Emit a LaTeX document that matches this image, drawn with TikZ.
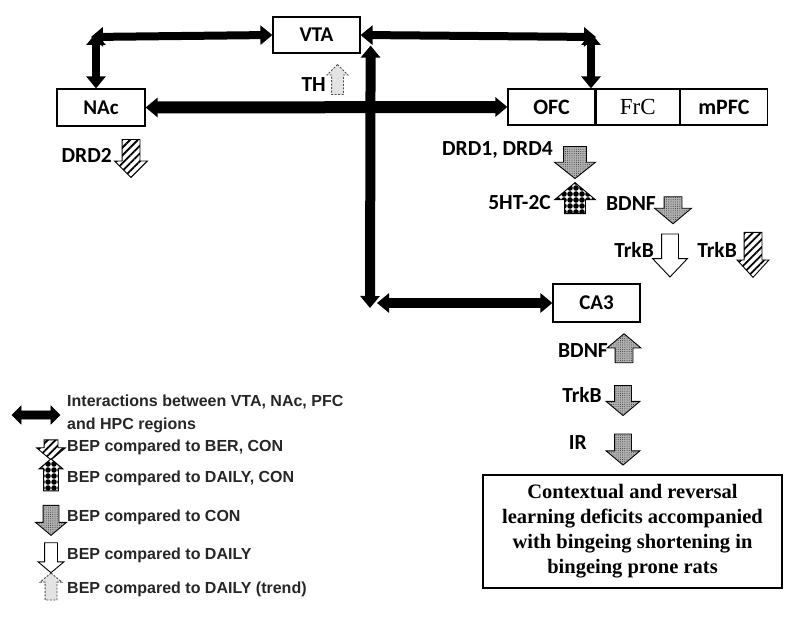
\documentclass[tikz,border=0pt]{standalone}
\usepackage{fontspec}
\setmainfont{Carlito}
\newfontfamily\legfont{Liberation Sans}
\newfontfamily\timesfont{Liberation Serif}
\usetikzlibrary{positioning,arrows.meta,shapes.arrows,patterns,patterns.meta}

\tikzset{
  region/.style={rectangle,draw,line width=1.2pt,minimum height=36pt,inner sep=0pt,font=\fontsize{21}{24}\selectfont\bfseries},
  lbl/.style={anchor=east,inner sep=1pt,font=\fontsize{21.5}{24}\selectfont\bfseries},
  legtxt/.style={anchor=west,inner sep=0pt,align=left,text=black!85,font=\legfont\fontsize{16}{23}\selectfont\bfseries},
  conn/.style={line width=#1,{Triangle[length=12pt,width=19pt]}-{Triangle[length=12pt,width=19pt]}},
  blk/.style={single arrow,draw,line width=0.9pt,single arrow head indent=0pt,single arrow tip angle=100},
  dn/.style={blk,shape border rotate=270},
  upw/.style={blk,shape border rotate=90},
  % length, head width, shaft width
  asize/.style n args={3}{minimum height=#1,minimum width=#2,inner sep={(#3)/2},single arrow head extend={((#2)-(#3))/2}},
  hatch/.style={fill=white,postaction={pattern={Lines[angle=45,distance=5.5pt,line width=1.8pt]}}},
  dotfill/.style={fill=gray!60,postaction={pattern={Dots[radius=0.5pt,distance=2.2pt]},pattern color=black!80}},
  circ/.style={fill=white,postaction={pattern={Dots[radius=2.8pt,distance=6pt]}}},
  wfill/.style={fill=white},
  trend/.style={fill=gray!22,draw=gray!60!black,dash pattern=on 2pt off 1.5pt}
}

\begin{document}
\begin{tikzpicture}[x=1pt,y=-1pt]
\useasboundingbox (0,0) rectangle (800,620);
% brain regions
\node[region,minimum width=87pt] (VTA) at (316.5,35) {VTA};
\node[region,minimum width=88pt,minimum height=37pt] (NAc) at (101,107.5) {NAc};
\node[region,minimum width=87pt,font=\fontsize{22}{24}\selectfont\bfseries] (OFC) at (551.5,107) {OFC};
\node[region,minimum width=83pt,font=\timesfont\fontsize{23}{24}\selectfont,right=0pt of OFC] (FrC) {FrC};
\node[region,minimum width=87pt,font=\fontsize{22}{24}\selectfont\bfseries,right=0pt of FrC] (mPFC) {mPFC};
\node[region,minimum width=87pt,minimum height=38pt] (CA3) at (596.5,303) {CA3};
\node[draw,line width=2pt,minimum width=299pt,minimum height=113pt,align=center,font=\timesfont\bfseries\fontsize{20.5}{25}\selectfont] (deficit) at (632.5,531.5) {Contextual and reversal\\learning deficits accompanied\\with bingeing shortening in\\bingeing prone rats};

% interactions
\coordinate (nw) at (96,37);
\coordinate (ne) at (591,37);
\coordinate (hub) at (370,303);
\draw[conn=8pt] ([xshift=-5pt]nw) -- (VTA.west);
\draw[conn=8pt] ([yshift=4pt]nw) -- (nw |- NAc.north);
\draw[conn=8pt] (VTA.east) -- ([xshift=5pt]ne);
\draw[conn=8pt] ([yshift=4pt]ne) -- (ne |- OFC.north);
\draw[conn=12pt] (NAc.east) -- (OFC.west);
\draw[conn=10pt] ([shift={(10pt,8pt)}]VTA.south east) -- ([yshift=-5pt]hub);
\draw[conn=10pt] ([xshift=7pt]hub) -- (CA3.west);

% changes per region
\node[upw,trend,asize={30pt}{20pt}{11pt},single arrow tip angle=90] (aTH) at (337.5,82.5) {};
\node[lbl] (lTH) at (327,85) {TH};
\node[dn,hatch,asize={38pt}{32pt}{17pt},single arrow tip angle=90] (aDRD2) at (131,154) {};
\node[lbl] (lDRD2) at (113,155) {DRD2};
\node[dn,dotfill,asize={30pt}{40pt}{22pt},single arrow tip angle=103] (aDRD) at (575,158) {};
\node[lbl] (lDRD) at (554,150) {DRD1, DRD4};
\node[upw,circ,asize={31pt}{40pt}{20pt}] (a5HT) at (575,202.5) {};
\node[lbl] (l5HT) at (552,203) {5HT-2C};
\node[dn,dotfill,asize={27pt}{36pt}{17pt}] (aBDNFp) at (673,206.5) {};
\node[lbl] (lBDNFp) at (657,204) {BDNF};
\node[dn,wfill,asize={43pt}{34pt}{16pt},single arrow tip angle=87] (aTrkBw) at (670,251) {};
\node[lbl] (lTrkBw) at (655,250) {TrkB};
\node[dn,hatch,asize={45pt}{31pt}{17pt},single arrow tip angle=85] (aTrkBh) at (753,250) {};
\node[lbl] (lTrkBh) at (738,250) {TrkB};
\node[upw,dotfill,asize={29pt}{33pt}{17pt}] (aBDNFc) at (624,352) {};
\node[lbl] (lBDNFc) at (609,351) {BDNF};
\node[dn,dotfill,asize={30pt}{33pt}{16pt}] (aTrkBc) at (623,397) {};
\node[lbl] (lTrkBc) at (603,395) {TrkB};
\node[dn,dotfill,asize={31pt}{33pt}{16pt}] (aIR) at (623,446) {};
\node[lbl] (lIR) at (588,443) {IR};

% legend
\node[double arrow,draw,fill=black,inner sep=4pt,minimum height=48pt,minimum width=18pt,double arrow head extend=5pt] (lg0) at (36,415) {};
\node[legtxt] (lgT0) at (67,414) {Interactions between VTA, NAc, PFC\\and HPC regions};
\foreach \pat/\dir/\y/\len/\wid/\sh/\t [count=\k] in {
  hatch/dn/447/20pt/28pt/13pt/{BEP compared to BER, CON},
  circ/upw/478/32pt/23pt/14pt/{BEP compared to DAILY, CON},
  dotfill/dn/517/30pt/30pt/15pt/{BEP compared to CON},
  wfill/dn/555/30pt/25pt/12pt/{BEP compared to DAILY},
  trend/upw/589/27pt/21pt/11pt/{BEP compared to DAILY (trend)}} {
  \node[\dir,\pat,asize={\len}{\wid}{\sh}] (lg\k) at (51,\y) {};
  \node[legtxt] (lgT\k) at (67,\y) {\t};
}
\end{tikzpicture}
\end{document}
